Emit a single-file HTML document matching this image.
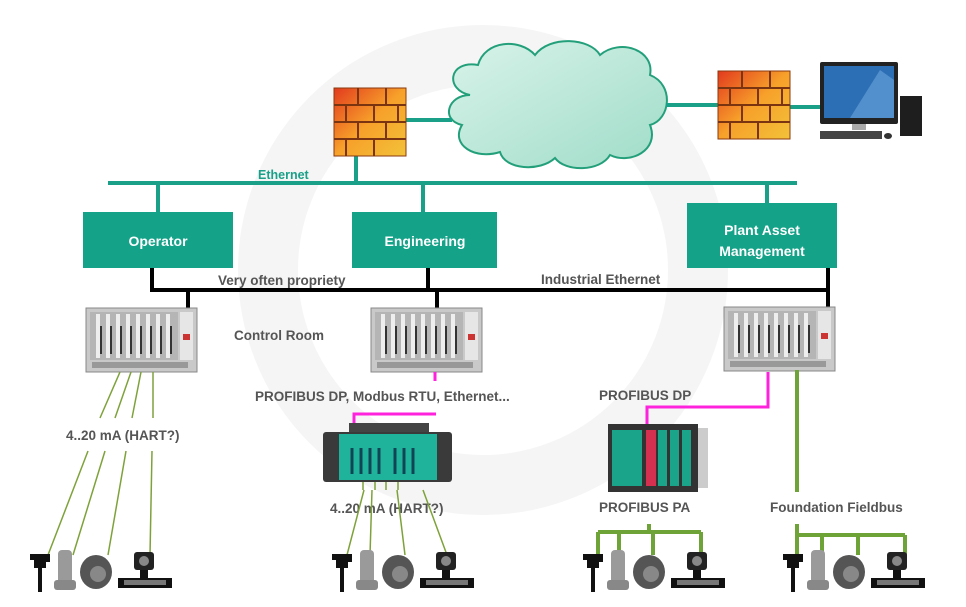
<!DOCTYPE html>
<html><head><meta charset="utf-8"><style>
html,body{margin:0;padding:0;background:#fff}
svg{display:block}
text{font-family:"Liberation Sans",sans-serif;font-weight:bold}
</style></head><body>
<svg width="966" height="607" viewBox="0 0 966 607" xmlns="http://www.w3.org/2000/svg">
<defs>
<linearGradient id="fw" x1="0" y1="0" x2="1" y2="1"><stop offset="0" stop-color="#e23a1e"/><stop offset="0.5" stop-color="#f7a12a"/><stop offset="1" stop-color="#f2c23a"/></linearGradient>
<linearGradient id="cl" x1="0" y1="0" x2="1" y2="1"><stop offset="0" stop-color="#d9f3ea"/><stop offset="1" stop-color="#9fdcc8"/></linearGradient>
<g id="fwall">
<rect x="0" y="0" width="72" height="68" fill="url(#fw)" stroke="#8a3a10" stroke-width="1"/>
<path d="M0 17H72M0 34H72M0 51H72M24 0V17M52 0V17M12 17V34M40 17V34M64 17V34M24 34V51M52 34V51M12 51V68M40 51V68" stroke="#7a3410" stroke-width="2" fill="none"/>
</g>
<g id="rack">
<rect x="0" y="0" width="111" height="64" fill="#c9c9c9" stroke="#888"/>
<rect x="4" y="4" width="88" height="48" fill="#b5b5b5"/>
<path d="M12 6V50M22 6V50M32 6V50M42 6V50M52 6V50M62 6V50M72 6V50M82 6V50" stroke="#eee" stroke-width="4"/>
<path d="M15 18V46M25 18V46M35 18V46M45 18V46M55 18V46M65 18V46M75 18V46M85 18V46" stroke="#333" stroke-width="2"/>
<rect x="94" y="4" width="13" height="48" fill="#e6e6e6"/>
<rect x="97" y="26" width="7" height="6" fill="#c33"/>
<rect x="6" y="54" width="96" height="6" fill="#999"/>
</g>
<g id="devs">
<path d="M0 4h16v8h-4v6h-4v24h-4v-24h-4v-6h-0z" fill="#111"/><rect x="-4" y="4" width="6" height="6" fill="#111"/>
<rect x="24" y="0" width="14" height="38" rx="4" fill="#9a9a9a"/><rect x="20" y="30" width="22" height="10" rx="3" fill="#888"/>
<ellipse cx="62" cy="22" rx="16" ry="17" fill="#555"/><circle cx="64" cy="24" r="8" fill="#888"/>
<rect x="100" y="2" width="20" height="18" rx="3" fill="#222"/><circle cx="110" cy="11" r="5" fill="#888"/>
<rect x="84" y="28" width="54" height="10" fill="#111"/><rect x="90" y="30" width="42" height="5" fill="#777"/><rect x="106" y="20" width="8" height="8" fill="#111"/>
</g>
</defs>
<rect width="966" height="607" fill="#fff"/>
<circle cx="483" cy="270" r="215" fill="none" stroke="#f5f5f5" stroke-width="60"/>
<path d="M470 95 C445 90 448 60 478 65 C485 40 520 38 535 55 C550 35 590 38 600 55 C620 38 655 50 650 75 C675 85 670 120 650 125 C660 150 630 165 610 155 C600 172 565 172 555 158 C540 172 505 170 500 152 C475 160 450 145 462 125 C440 120 448 95 470 95Z" fill="url(#cl)" stroke="#23a07a" stroke-width="2"/>
<g stroke="#1aa088" stroke-width="4" fill="none">
<path d="M405 120H452M666 105H720M790 107H822"/>
<path d="M356 150V183M108 183H797M158 183V212M423 183V212M767 183V203"/>
</g>
<use href="#fwall" x="334" y="88"/>
<use href="#fwall" x="718" y="71"/>
<rect x="820" y="62" width="78" height="62" rx="2" fill="#222"/>
<rect x="824" y="66" width="70" height="52" fill="#2d6fb5"/>
<path d="M850 118L880 70L894 80V118Z" fill="#6aa5dd" opacity="0.6"/>
<rect x="852" y="124" width="14" height="6" fill="#aaa"/>
<rect x="820" y="131" width="62" height="8" fill="#444"/>
<ellipse cx="888" cy="136" rx="4" ry="3" fill="#333"/>
<rect x="900" y="96" width="22" height="40" fill="#1e1e1e"/>
<text x="258" y="179" font-size="12.5" fill="#1aa088">Ethernet</text>
<g fill="#14a288">
<rect x="83" y="212" width="150" height="56"/>
<rect x="352" y="212" width="145" height="56"/>
<rect x="687" y="203" width="150" height="65"/>
</g>
<g font-size="14" fill="#fff" text-anchor="middle">
<text x="158" y="246">Operator</text>
<text x="425" y="246">Engineering</text>
<text x="762" y="235">Plant Asset</text>
<text x="762" y="256">Management</text>
</g>
<g stroke="#000" stroke-width="4" fill="none">
<path d="M152 268V290H828V268M428 268V290M188 290V310M437 290V310M828 290V310"/>
</g>
<g font-size="13.5" fill="#555">
<text x="218" y="285">Very often propriety</text>
<text x="541" y="284">Industrial Ethernet</text>
<text x="234" y="340">Control Room</text>
<text x="255" y="401">PROFIBUS DP, Modbus RTU, Ethernet...</text>
<text x="66" y="440">4..20 mA (HART?)</text>
<text x="330" y="513">4..20 mA (HART?)</text>
<text x="599" y="400">PROFIBUS DP</text>
<text x="599" y="512">PROFIBUS PA</text>
<text x="770" y="512">Foundation Fieldbus</text>
</g>
<use href="#rack" x="86" y="308"/>
<use href="#rack" x="371" y="308"/>
<use href="#rack" x="724" y="307"/>
<g stroke="#ff22dd" stroke-width="3" fill="none">
<path d="M435 372V381M436 414H354V425"/>
<path d="M768 372V407H647V430"/>
</g>
<rect x="349" y="423" width="80" height="10" fill="#444"/>
<rect x="323" y="432" width="129" height="50" rx="3" fill="#3a3a3a"/>
<rect x="339" y="434" width="98" height="46" fill="#1eb39a"/>
<path d="M352 448V474M361 448V474M370 448V474M379 448V474M395 448V474M404 448V474M413 448V474" stroke="#145" stroke-width="3"/>
<rect x="608" y="424" width="90" height="68" fill="#333"/>
<rect x="612" y="430" width="30" height="56" fill="#1aa58a"/>
<rect x="646" y="430" width="10" height="56" fill="#d63050"/>
<rect x="658" y="430" width="9" height="56" fill="#1aa58a"/><rect x="670" y="430" width="9" height="56" fill="#1aa58a"/><rect x="682" y="430" width="9" height="56" fill="#1aa58a"/>
<rect x="698" y="428" width="10" height="60" fill="#ccc"/>
<g stroke="#7ea23a" stroke-width="1.5" fill="none">
<path d="M120 372L100 418M131 372L115 418M141 372L132 418M153 372V418"/>
<path d="M88 451L48 555M105 451L73 555M126 451L108 555M152 451L150 555"/>
<path d="M364 490L347 555M372 490L370 555M397 490L405 555M423 490L447 555"/>
<path d="M363 482V490M375 482V490M386 482V490M398 482V490"/>
</g>
<g stroke="#6ea337" stroke-width="4" fill="none">
<path d="M797 370V492"/>
<path d="M649 524V532M598 532H701M598 532V555M619 532V555M653 532V555M701 532V555"/>
<path d="M797 524V535H905M797 535V555M822 535V555M858 535V555M905 535V555"/>
</g>
<use href="#devs" x="34" y="550"/>
<use href="#devs" x="336" y="550"/>
<use href="#devs" x="587" y="550"/>
<use href="#devs" x="787" y="550"/>
</svg>
</body></html>
